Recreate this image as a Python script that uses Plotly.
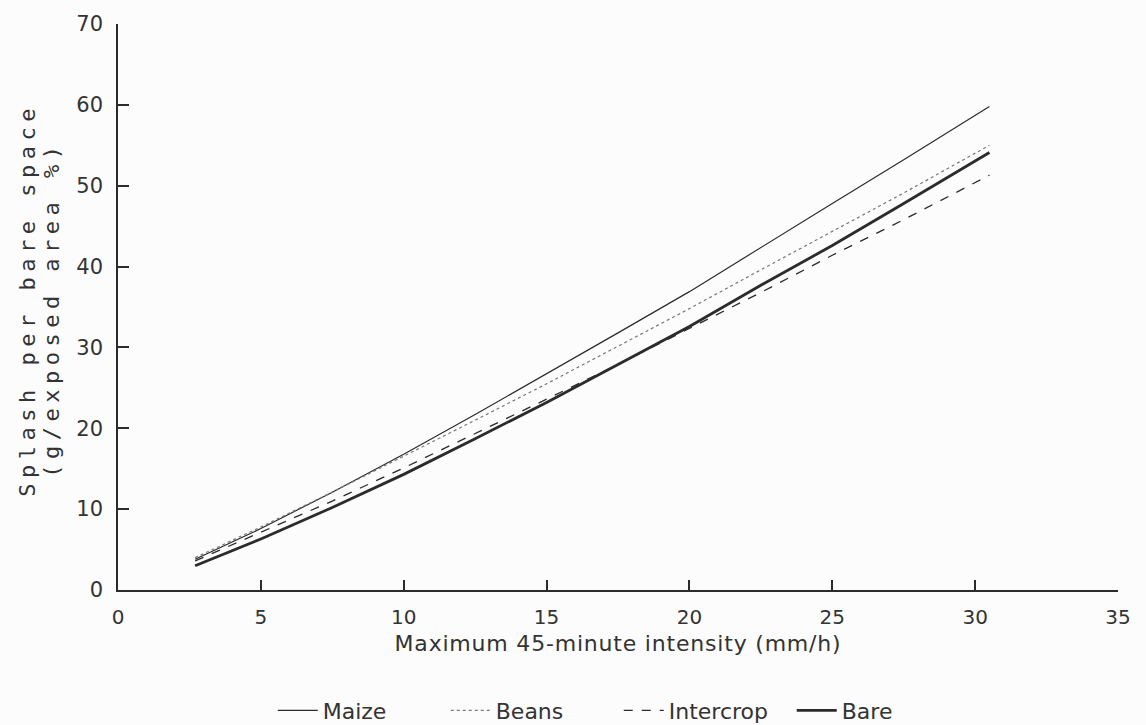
import plotly.graph_objects as go

# Data
intensity = [2.7, 5, 7.5, 10, 12.5, 15, 17.5, 20, 22.5, 25, 27.5, 30.5]
maize = [3.8, 7.6, 12.1, 16.8, 21.7, 26.7, 31.8, 36.9, 42.4, 47.8, 53.2, 59.8]
beans = [4.0, 7.8, 12.1, 16.5, 21.0, 25.5, 30.1, 34.8, 39.6, 44.3, 49.1, 55.0]
intercrop = [3.6, 7.1, 11.0, 15.1, 19.3, 23.6, 27.9, 32.3, 36.8, 41.4, 45.8, 51.3]
bare = [3.0, 6.3, 10.2, 14.3, 18.7, 23.2, 27.9, 32.6, 37.7, 42.6, 47.8, 54.1]

x_ticks = [0, 5, 10, 15, 20, 25, 30, 35]
y_ticks = [0, 10, 20, 30, 40, 50, 60, 70]

ink = "#2b2b2b"
txt = "#333333"

fig = go.Figure()
fig.add_trace(go.Scatter(x=intensity, y=maize, mode="lines", name="Maize",
                         line=dict(color=ink, width=1.2)))
fig.add_trace(go.Scatter(x=intensity, y=beans, mode="lines", name="Beans",
                         line=dict(color="#777777", width=1.2, dash="dot")))
fig.add_trace(go.Scatter(x=intensity, y=intercrop, mode="lines", name="Intercrop",
                         line=dict(color=ink, width=1.3, dash="dash")))
fig.add_trace(go.Scatter(x=intensity, y=bare, mode="lines", name="Bare",
                         line=dict(color=ink, width=2.8)))

fig.update_layout(
    width=1146, height=725,
    margin=dict(l=118, r=28, t=15, b=135),
    paper_bgcolor="#fcfcfc", plot_bgcolor="#fcfcfc",
    font=dict(family="DejaVu Sans", color=txt, size=20),
    showlegend=True,
    legend=dict(orientation="h", xref="container", yref="container",
                x=0.238, xanchor="left", y=0.02, yanchor="middle",
                font=dict(size=22, color=txt), itemwidth=40,
                entrywidth=118, entrywidthmode="pixels",
                bgcolor="rgba(0,0,0,0)"),
    xaxis=dict(range=[0, 35], tickvals=x_ticks, ticks="inside", ticklen=10,
               tickcolor=ink, tickwidth=1.5, showline=True, linecolor=ink,
               linewidth=1.5, showgrid=False, zeroline=False,
               ticklabelstandoff=8, tickfont=dict(size=20, color=txt),
               title=dict(text='<span style="letter-spacing:0.8px">Maximum 45-minute intensity (mm/h)</span>',
                          font=dict(size=22, color=txt), standoff=8)),
    yaxis=dict(range=[0, 70], tickvals=y_ticks, ticks="inside", ticklen=11,
               tickcolor=ink, tickwidth=1.5, showline=True, linecolor=ink,
               linewidth=1.5, showgrid=False, zeroline=False,
               ticklabelstandoff=9, tickfont=dict(size=21, color=txt)),
)

fig.add_annotation(
    text='<span style="letter-spacing:5.5px">Splash per bare space</span>',
    xref="paper", yref="paper", x=-0.09, y=0.513, xanchor="center", yanchor="middle",
    textangle=-90, showarrow=False,
    font=dict(family="DejaVu Sans Mono", size=22, color=txt))
fig.add_annotation(
    text='<span style="letter-spacing:5.5px">(g/exposed area %)</span>',
    xref="paper", yref="paper", x=-0.066, y=0.495, xanchor="center", yanchor="middle",
    textangle=-90, showarrow=False,
    font=dict(family="DejaVu Sans Mono", size=22, color=txt))

fig.write_html("out.html")
